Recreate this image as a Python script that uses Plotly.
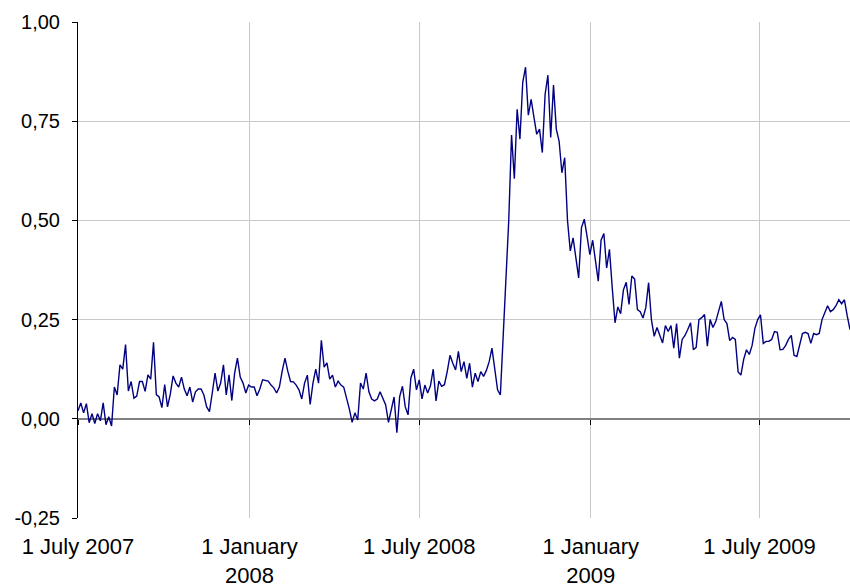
import pandas as pd
import plotly.graph_objects as go

# Series values, one point every 3 days from 1 July 2007
values = [
    0.02, 0.04, 0.015, 0.038, -0.01, 0.013, -0.012, 0.013, -0.005, 0.04,
    -0.015, 0.005, -0.018, 0.08, 0.06, 0.136, 0.125, 0.187, 0.07, 0.094,
    0.052, 0.057, 0.094, 0.094, 0.069, 0.111, 0.1, 0.193, 0.061, 0.055,
    0.028, 0.086, 0.03, 0.062, 0.108, 0.09, 0.08, 0.105, 0.075,
    0.058, 0.08, 0.042, 0.068, 0.075, 0.075, 0.06, 0.03, 0.018, 0.065,
    0.115, 0.07, 0.09, 0.136, 0.06, 0.111, 0.046, 0.115, 0.153, 0.105,
    0.09, 0.065, 0.085, 0.08, 0.08, 0.058, 0.075, 0.098, 0.096, 0.095,
    0.085, 0.078, 0.065, 0.08, 0.12, 0.153, 0.12,
    0.094, 0.093, 0.085, 0.073, 0.05, 0.09, 0.11, 0.036, 0.09, 0.125,
    0.09, 0.198, 0.13, 0.141, 0.10, 0.11, 0.08, 0.095, 0.085, 0.08,
    0.055, 0.025, -0.009, 0.015, -0.003, 0.09, 0.075, 0.115, 0.068, 0.05,
    0.045, 0.05, 0.068, 0.05, 0.035, -0.009, 0.023, 0.055,
    -0.035, 0.056, 0.082, 0.03, 0.01, 0.103, 0.125, 0.073, 0.098, 0.05,
    0.085, 0.065, 0.083, 0.125, 0.045, 0.095,
    0.082, 0.086, 0.119, 0.16, 0.14, 0.123, 0.17, 0.119, 0.144, 0.102,
    0.14, 0.08, 0.115, 0.094, 0.119, 0.107, 0.122, 0.144, 0.178, 0.123,
    0.073, 0.06, 0.21, 0.39,
    0.50, 0.715, 0.605, 0.78, 0.705, 0.848, 0.886, 0.765, 0.805, 0.76,
    0.717, 0.73, 0.671, 0.818, 0.866, 0.709, 0.841, 0.73, 0.70, 0.62,
    0.658, 0.50, 0.423, 0.456, 0.40, 0.355, 0.482, 0.503, 0.46, 0.414,
    0.45, 0.40, 0.347, 0.45, 0.467, 0.38,
    0.427, 0.33, 0.242, 0.282, 0.265, 0.325, 0.344, 0.288, 0.36, 0.352,
    0.275, 0.27, 0.254, 0.28, 0.343, 0.25, 0.208, 0.23, 0.212, 0.191,
    0.235, 0.22, 0.235, 0.178, 0.24, 0.153, 0.2, 0.21, 0.225, 0.242,
    0.174, 0.18, 0.25, 0.255, 0.263, 0.183, 0.25, 0.23, 0.245, 0.27,
    0.296, 0.25, 0.24,
    0.197, 0.205, 0.2, 0.118, 0.11, 0.15, 0.174, 0.162, 0.185, 0.228,
    0.25, 0.262, 0.19, 0.195, 0.195, 0.2, 0.22, 0.218, 0.174, 0.175,
    0.185, 0.2, 0.21, 0.16, 0.157, 0.19, 0.215, 0.218, 0.215, 0.19,
    0.215, 0.212, 0.215, 0.25, 0.267, 0.285, 0.27, 0.275, 0.285, 0.30,
    0.29, 0.30, 0.26, 0.225,
]
dates = pd.date_range("2007-07-01", periods=len(values), freq="3D")

x_tickvals = ["2007-07-01", "2008-01-01", "2008-07-01", "2009-01-01", "2009-07-01"]
x_ticktext = ["1 July 2007", "1 January<br>2008", "1 July 2008", "1 January<br>2009", "1 July 2009"]
y_tickvals = [-0.25, 0.0, 0.25, 0.5, 0.75, 1.0]
y_ticktext = ["-0,25", "0,00", "0,25", "0,50", "0,75", "1,00"]
x_range = ["2007-07-01", "2009-10-06"]
y_range = [-0.25, 1.0]

fig = go.Figure()
fig.add_trace(go.Scatter(x=dates, y=values, mode="lines",
                         line=dict(color="#000080", width=1.4),
                         showlegend=False, hoverinfo="skip"))
# helper trace so the tick-mark axis on the zero line is drawn
fig.add_trace(go.Scatter(x=dates[:1], y=[None], xaxis="x2", mode="lines",
                         showlegend=False, hoverinfo="skip"))

yfont = dict(family="Liberation Sans, Arial, sans-serif", size=20, color="black")
xfont = dict(family="Liberation Sans, Arial, sans-serif", size=22, color="black")

fig.update_layout(
    width=850, height=585,
    margin=dict(l=78, r=0, t=22, b=67),
    paper_bgcolor="white", plot_bgcolor="white",
    font=yfont,
    xaxis=dict(range=x_range, tickvals=x_tickvals, ticktext=x_ticktext,
               showgrid=True, gridcolor="#c8c8c8", gridwidth=1,
               zeroline=False, showline=False, ticks="",
               ticklabelstandoff=13, tickfont=xfont, automargin=False),
    xaxis2=dict(range=x_range, tickvals=x_tickvals, overlaying="x",
                anchor="free", position=0.2, showgrid=False, zeroline=False,
                showline=False, ticks="outside", ticklen=5, tickcolor="black",
                tickwidth=1, showticklabels=False, automargin=False),
    yaxis=dict(range=y_range, tickvals=y_tickvals, ticktext=y_ticktext,
               showgrid=True, gridcolor="#c8c8c8", gridwidth=1,
               zeroline=True, zerolinecolor="#808080", zerolinewidth=2,
               showline=True, linecolor="black", linewidth=1,
               ticks="outside", ticklen=5, tickcolor="black",
               ticklabelstandoff=8, tickfont=yfont, automargin=False),
)

fig.write_html(
    "out.html",
    config={"displayModeBar": False},
    post_script="document.body.style.margin='0';document.body.style.overflow='hidden';",
)
